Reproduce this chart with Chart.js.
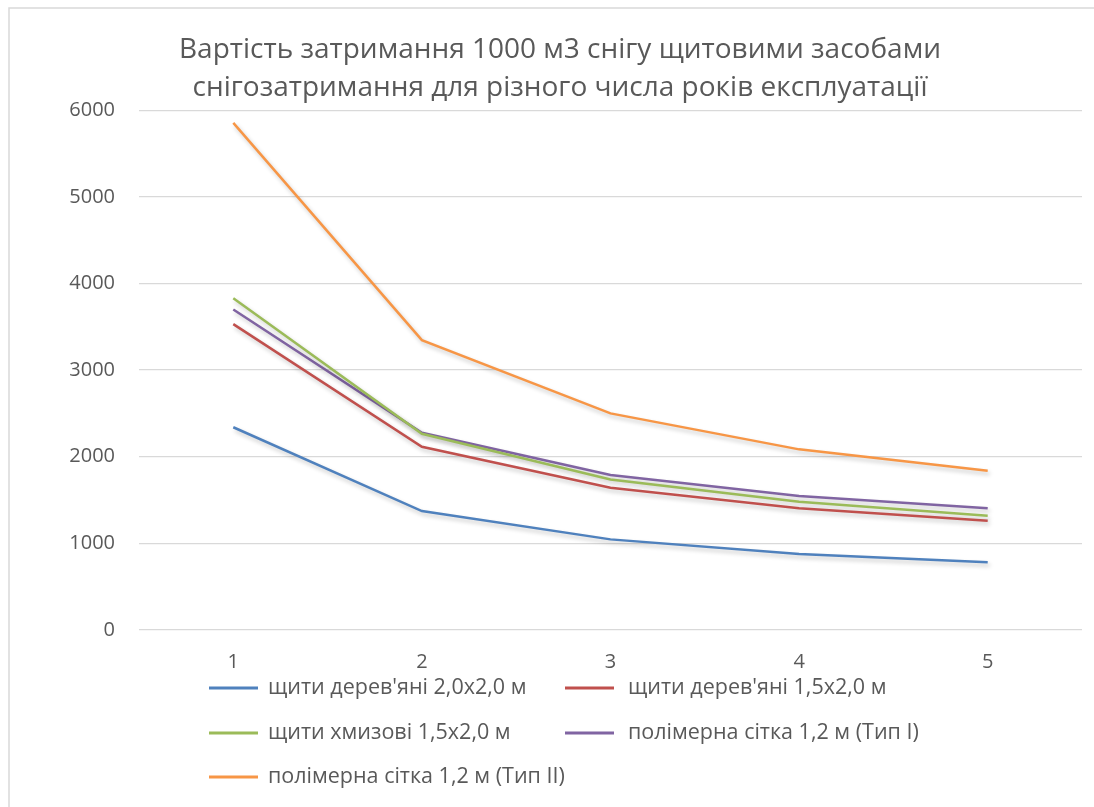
<!DOCTYPE html>
<html>
<head>
<meta charset="utf-8">
<script src="https://cdn.jsdelivr.net/npm/chart.js@4/dist/chart.umd.min.js"></script>
<style>
  html, body { margin: 0; padding: 0; background: #ffffff; }
  #wrap { width: 1094px; height: 807px; position: relative; }
</style>
</head>
<body>
<div id="wrap"><canvas id="c" width="1094" height="807"></canvas></div>
<script>
// Years of service
const years = ['1', '2', '3', '4', '5'];

// Cost of retaining 1000 m3 of snow, per series
const woodShields20x20 = [2340, 1373, 1046, 877, 781];
const woodShields15x20 = [3530, 2115, 1642, 1404, 1261];
const brushShields15x20 = [3830, 2265, 1738, 1481, 1319];
const polymerNetType1 = [3700, 2277, 1788, 1546, 1404];
const polymerNetType2 = [5854, 3346, 2500, 2085, 1838];

const seriesNames = [
  'щити дерев\'яні 2,0x2,0 м',
  'щити дерев\'яні 1,5x2,0 м',
  'щити хмизові 1,5x2,0 м',
  'полімерна сітка 1,2 м (Тип I)',
  'полімерна сітка 1,2 м (Тип II)'
];
const seriesColors = ['#4F81BD', '#C0504D', '#9BBB59', '#8064A2', '#F79646'];
const seriesValues = [woodShields20x20, woodShields15x20, brushShields15x20, polymerNetType1, polymerNetType2];

const yTicks = [0, 1000, 2000, 3000, 4000, 5000, 6000];

const FONT = '"Open Sans", sans-serif';
const TEXT = '#595959';

// Outer frame of the chart
const framePlugin = {
  id: 'frame',
  beforeDraw(chart) {
    const ctx = chart.ctx;
    ctx.save();
    ctx.fillStyle = '#ffffff';
    ctx.fillRect(0, 0, chart.width, chart.height);
    ctx.strokeStyle = '#d9d9d9';
    ctx.lineWidth = 1.5;
    ctx.strokeRect(9, 8, chart.width + 20, chart.height + 20);
    ctx.restore();
  }
};

// Soft drop shadow under the lines
const shadowPlugin = {
  id: 'lineShadow',
  beforeDatasetsDraw(chart) {
    const ctx = chart.ctx;
    ctx.save();
    ctx.shadowColor = 'rgba(0,0,0,0.22)';
    ctx.shadowBlur = 4;
    ctx.shadowOffsetX = 2;
    ctx.shadowOffsetY = 3;
  },
  afterDatasetsDraw(chart) {
    chart.ctx.restore();
  }
};

// Two-column legend below the axis
const gridLegendPlugin = {
  id: 'gridLegend',
  afterDraw(chart) {
    const ctx = chart.ctx;
    const cols = [{ lx: 209, tx: 268 }, { lx: 565, tx: 628 }];
    const rows = [688, 733, 777];
    ctx.save();
    ctx.font = '21.5px ' + FONT;
    ctx.textBaseline = 'middle';
    ctx.textAlign = 'left';
    chart.data.datasets.forEach((ds, i) => {
      const c = cols[i % 2];
      const y = rows[Math.floor(i / 2)];
      ctx.strokeStyle = ds.borderColor;
      ctx.lineWidth = 3;
      ctx.beginPath();
      ctx.moveTo(c.lx, y);
      ctx.lineTo(c.lx + 49, y);
      ctx.stroke();
      ctx.fillStyle = TEXT;
      ctx.fillText(ds.label, c.tx, y);
    });
    ctx.restore();
  }
};

new Chart(document.getElementById('c'), {
  type: 'line',
  data: {
    labels: years,
    datasets: seriesValues.map((vals, i) => ({
      label: seriesNames[i],
      data: vals,
      borderColor: seriesColors[i],
      backgroundColor: seriesColors[i],
      borderWidth: 2.5,
      pointRadius: 0,
      tension: 0,
      fill: false
    }))
  },
  options: {
    responsive: false,
    animation: false,
    layout: { padding: { left: 38, right: 12, top: 12, bottom: 0 } },
    plugins: {
      legend: { display: false },
      tooltip: { enabled: false },
      title: {
        display: true,
        text: [
          'Вартість затримання 1000 м3 снігу щитовими засобами',
          'снігозатримання для різного числа років експлуатації'
        ],
        color: TEXT,
        font: { family: FONT, size: 28, weight: 'normal', lineHeight: 1.36 },
        padding: { top: 19, bottom: 3 }
      }
    },
    scales: {
      x: {
        offset: true,
        grid: { display: false, drawTicks: false },
        border: { display: false },
        ticks: { color: TEXT, font: { family: FONT, size: 20 }, padding: 20 },
        afterFit(s) { s.height = 177; }
      },
      y: {
        min: 0,
        max: 6000,
        afterBuildTicks(s) { s.ticks = yTicks.map(v => ({ value: v })); },
        grid: { color: '#d9d9d9', lineWidth: 1.3, drawTicks: false },
        border: { display: false },
        ticks: {
          color: TEXT,
          font: { family: FONT, size: 20 },
          padding: 24,
          callback: v => String(v)
        },
        afterFit(s) { s.width = 101; }
      }
    }
  },
  plugins: [framePlugin, shadowPlugin, gridLegendPlugin]
});
</script>
</body>
</html>
